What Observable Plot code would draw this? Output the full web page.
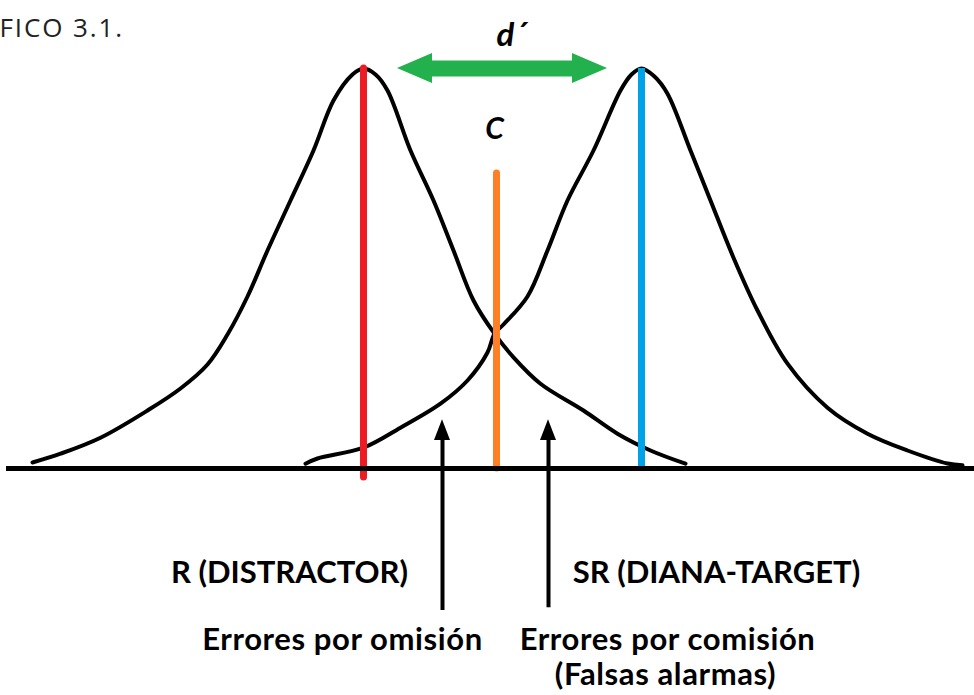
<!DOCTYPE html>
<html>
<head>
<meta charset="utf-8">
<script src="https://cdn.jsdelivr.net/npm/d3@7"></script>
<script src="https://cdn.jsdelivr.net/npm/@observablehq/plot@0.6"></script>
<style>
  html, body { margin: 0; padding: 0; background: #fff; }
  svg { display: block; }
</style>
</head>
<body>
<div id="chart"></div>
<script>
// Evidence axis (arbitrary units) vs relative density (peak = 1)
const curveR = [
  [32, 0.015], [60, 0.037], [100, 0.077], [147, 0.145], [180, 0.20], [207, 0.26],
  [227, 0.335], [247, 0.43], [267, 0.545], [290, 0.67], [313, 0.795], [333, 0.92],
  [352, 0.985], [363, 1.0], [375, 0.985], [387, 0.945], [410, 0.795], [433, 0.67],
  [453, 0.545], [473, 0.42], [494, 0.337], [513, 0.278], [540, 0.212], [583, 0.145],
  [617, 0.087], [650, 0.045], [685, 0.012]
];
const curveSR = [
  [305, 0.012], [317, 0.025], [363, 0.052], [400, 0.102], [440, 0.162], [467, 0.22],
  [487, 0.29], [494, 0.337], [503, 0.36], [527, 0.43], [547, 0.545], [567, 0.67],
  [593, 0.795], [620, 0.945], [631, 0.985], [641, 1.0], [654, 0.98], [667, 0.937],
  [690, 0.795], [710, 0.67], [733, 0.527], [757, 0.395], [787, 0.262], [827, 0.152],
  [867, 0.087], [907, 0.045], [947, 0.0125], [962, 0.008]
];
const meanR = 363;
const meanSR = 641;
const criterion = 496;
const criterionTop = 0.7375;
const axisExtent = [6, 974];

const titleText = "FICO 3.1.";
const dprimeLabel = "d\u00b4";
const criterionLabel = "C";
const distLabels = ["R (DISTRACTOR)", "SR (DIANA-TARGET)"];
const distLabelX = [289, 716];
const errorLabels = ["Errores por omisión", "Errores por comisión", "(Falsas alarmas)"];
const errorLabelX = [342, 667, 665];
const errorLabelY = [-0.3975, -0.3975, -0.485];
const errorArrowX = [442, 548];
const errorArrowBottom = [-0.355, -0.348];

// Build tables for the library
const curves = [
  ...curveR.map(([x, y]) => ({x, y, dist: "R"})),
  ...curveSR.map(([x, y]) => ({x, y, dist: "SR"}))
];
const green = "#22b14c";
const headHalf = 0.0375;
const leftHead = [
  {y: 1 - headHalf, x1: meanR + 69, x2: meanR + 69},
  {y: 1, x1: meanR + 34, x2: meanR + 69},
  {y: 1 + headHalf, x1: meanR + 69, x2: meanR + 69}
];
const rightHead = [
  {y: 1 - headHalf, x1: meanSR - 69, x2: meanSR - 69},
  {y: 1, x1: meanSR - 69, x2: meanSR - 34},
  {y: 1 + headHalf, x1: meanSR - 69, x2: meanSR - 69}
];
const arrowHeads = errorArrowX.flatMap((x, i) => [
  {id: i, x: x - 8, y1: 0.07, y2: 0.07},
  {id: i, x: x, y1: 0.07, y2: 0.122},
  {id: i, x: x + 8, y1: 0.07, y2: 0.07}
]);

const bold = "Lato, 'Open Sans', sans-serif";

const chart = Plot.plot({
  width: 974,
  height: 695,
  margin: 0,
  x: {domain: [0, 974], range: [0, 974], axis: null},
  y: {domain: [0, 1], range: [468, 68], axis: null},
  style: {background: "#fff"},
  marks: [
    Plot.line(curves, {x: "x", y: "y", z: "dist", stroke: "#000", strokeWidth: 4, curve: "catmull-rom"}),
    Plot.ruleX([{x: meanR, y1: -0.0225, y2: 1}], {x: "x", y1: "y1", y2: "y2", stroke: "#ed1c24", strokeWidth: 7, strokeLinecap: "round"}),
    Plot.ruleX([{x: meanSR, y1: 0, y2: 1}], {x: "x", y1: "y1", y2: "y2", stroke: "#00a2e8", strokeWidth: 7}),
    Plot.ruleX([{x: criterion, y1: 0, y2: criterionTop}], {x: "x", y1: "y1", y2: "y2", stroke: "#ff7f27", strokeWidth: 7, strokeLinecap: "round"}),
    Plot.ruleY([{y: 0, x1: axisExtent[0], x2: axisExtent[1]}], {y: "y", x1: "x1", x2: "x2", stroke: "#000", strokeWidth: 5}),
    // d' arrow
    Plot.ruleY([{y: 1, x1: meanR + 60, x2: meanSR - 60}], {y: "y", x1: "x1", x2: "x2", stroke: green, strokeWidth: 16}),
    Plot.areaX(leftHead, {y: "y", x1: "x1", x2: "x2", fill: green}),
    Plot.areaX(rightHead, {y: "y", x1: "x1", x2: "x2", fill: green}),
    // error arrows
    Plot.ruleX(errorArrowX.map((x, i) => ({x, y1: errorArrowBottom[i], y2: 0.08})), {x: "x", y1: "y1", y2: "y2", stroke: "#000", strokeWidth: 4}),
    Plot.areaY(arrowHeads, {x: "x", y1: "y1", y2: "y2", z: "id", fill: "#000"}),
    // texts
    Plot.text([titleText], {frameAnchor: "top-left", textAnchor: "start", lineAnchor: "top", dx: -1, dy: 18, fontFamily: "'Open Sans', sans-serif", fontSize: 26, fill: "#222"}),
    Plot.text([dprimeLabel], {x: () => (meanR + meanSR) / 2 + 9, y: () => 1.115, text: d => d, lineAnchor: "top", fontFamily: bold, fontWeight: "bold", fontStyle: "italic", fontSize: 33, fill: "#000"}),
    Plot.text([criterionLabel], {x: () => criterion - 2, y: () => 0.8775, text: d => d, lineAnchor: "top", fontFamily: bold, fontWeight: "bold", fontStyle: "italic", fontSize: 30, fill: "#000"}),
    Plot.text(distLabels, {x: (d, i) => distLabelX[i], y: () => -0.23, text: d => d, lineAnchor: "top", fontFamily: bold, fontWeight: "bold", fontSize: 31, fill: "#000"}),
    Plot.text(errorLabels, {x: (d, i) => errorLabelX[i], y: (d, i) => errorLabelY[i], text: d => d, lineAnchor: "top", fontFamily: bold, fontWeight: "bold", fontSize: 31, fill: "#000"})
  ]
});

// letter spacing to mimic the wider original typefaces
const spacing = new Map([[titleText, 1.9]]);
errorLabels.forEach(t => spacing.set(t, 0.6));
d3.select(chart).selectAll("text").each(function () {
  const ls = spacing.get(this.textContent);
  if (ls != null) this.setAttribute("letter-spacing", ls);
});
document.getElementById("chart").appendChild(chart);
</script>
</body>
</html>
